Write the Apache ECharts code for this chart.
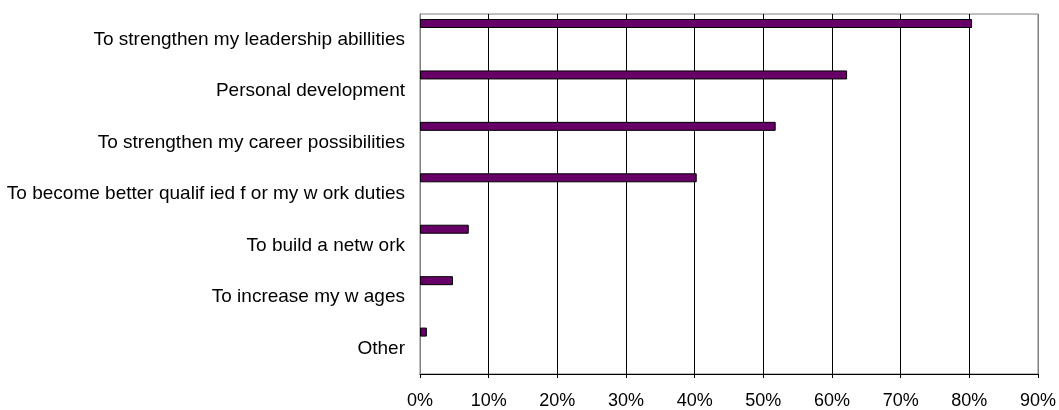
<!DOCTYPE html>
<html>
<head>
<meta charset="utf-8">
<script src="https://cdn.jsdelivr.net/npm/echarts@6/dist/echarts.min.js"></script>
<style>
html,body{margin:0;padding:0;background:#fff;}
#chart{width:1059px;height:410px;}
</style>
</head>
<body>
<div id="chart"></div>
<script>
var categories = [
  "To strengthen my leadership abillities",
  "Personal development",
  "To strengthen my career possibilities",
  "To become better qualif ied f or my w ork duties",
  "To build a netw ork",
  "To increase my w ages",
  "Other"
];
var values = [80.4, 62.2, 51.8, 40.3, 7.1, 4.8, 1.0];
var emptyValues = [null, null, null, null, null, null, null];
var tickValues = [0, 10, 20, 30, 40, 50, 60, 70, 80, 90];

var chart = echarts.init(document.getElementById('chart'), null, {renderer: 'canvas'});
var splitColors = tickValues.map(function (v, i) {
  return (i === 0 || i === tickValues.length - 1) ? '#808080' : '#000000';
});
chart.setOption({
  animation: false,
  backgroundColor: '#ffffff',
  grid: {
    left: 420, right: 20, top: 14, bottom: 36,
    show: true, borderColor: '#808080', borderWidth: 1, backgroundColor: 'transparent'
  },
  xAxis: {
    type: 'value',
    min: 0, max: 90, interval: 10,
    axisLine: {show: true, lineStyle: {color: '#000', width: 1}},
    axisTick: {show: true, length: 4, lineStyle: {color: '#000'}},
    splitLine: {show: true, lineStyle: {color: splitColors, width: 1}},
    axisLabel: {
      color: '#000', fontFamily: 'Liberation Sans, Arial, sans-serif', fontSize: 18, margin: 18,
      formatter: function (v) { return v + '%'; }
    }
  },
  yAxis: {
    type: 'category',
    data: categories,
    inverse: true,
    axisLine: {show: true, lineStyle: {color: '#808080'}},
    axisTick: {show: false},
    splitLine: {show: false},
    axisLabel: {
      color: '#000', fontFamily: 'Liberation Sans, Arial, sans-serif', fontSize: 19, margin: 15
    }
  },
  series: [
    {
      type: 'bar',
      data: values,
      barWidth: 9,
      barGap: '260%',
      itemStyle: {color: '#660066', borderColor: '#000', borderWidth: 1}
    },
    {
      type: 'bar',
      data: emptyValues,
      barWidth: 9,
      barGap: '260%',
      itemStyle: {color: 'transparent'}
    }
  ]
});
</script>
</body>
</html>
